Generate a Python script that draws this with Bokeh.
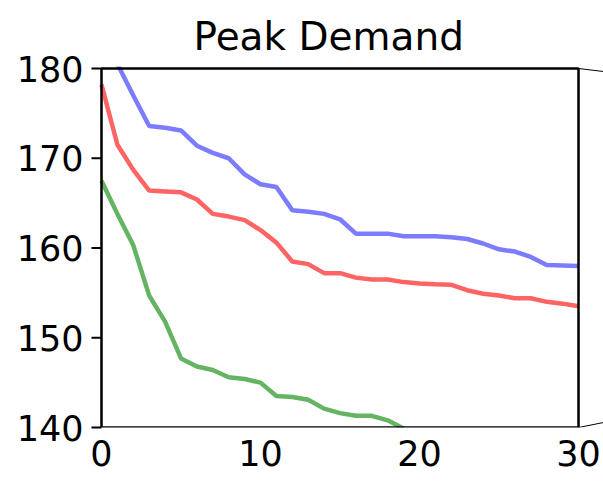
from bokeh.plotting import figure
from bokeh.models import Range1d, FixedTicker
from bokeh.embed import file_html
from bokeh.resources import INLINE

x_blue = list(range(0, 31))
blue = [184.4, 180.5, 177.0, 173.6, 173.4, 173.1, 171.4, 170.6, 170.0, 168.2,
        167.1, 166.8, 164.2, 164.05, 163.8, 163.2, 161.6, 161.6, 161.6, 161.3,
        161.3, 161.3, 161.2, 161.0, 160.5, 159.85, 159.6, 159.0, 158.1, 158.05, 158.0]

x_red = list(range(0, 31))
red = [178.2, 171.5, 168.7, 166.4, 166.3, 166.2, 165.4, 163.8, 163.5, 163.1,
       162.0, 160.6, 158.5, 158.2, 157.2, 157.2, 156.7, 156.5, 156.5, 156.2,
       156.05, 155.95, 155.9, 155.3, 154.9, 154.7, 154.4, 154.4, 154.0, 153.8, 153.5]

x_green = list(range(0, 20))
green = [167.5, 163.8, 160.3, 154.7, 151.8, 147.7, 146.8, 146.4, 145.6, 145.4,
         145.0, 143.5, 143.4, 143.1, 142.1, 141.6, 141.3, 141.3, 140.8, 139.9]

x_ticks = [0, 10, 20, 30]
y_ticks = [140, 150, 160, 170, 180]

# axes box (data limits) and its pixel size
X0, X1, Y0, Y1 = 0, 30, 140, 180
BW, BH = 477, 359
px_x = (X1 - X0) / BW
px_y = (Y1 - Y0) / BH
TICK = 10          # tick length, px
PAD_L, PAD_B, PAD_R, PAD_T = 12, 0, 25, 2   # room around the box for ticks / connectors

p = figure(frame_width=BW + PAD_L + PAD_R, frame_height=BH + PAD_B + PAD_T,
           output_backend="svg", toolbar_location=None,
           x_range=Range1d(X0 - PAD_L * px_x, X1 + PAD_R * px_x),
           y_range=Range1d(Y0 - PAD_B * px_y, Y1 + PAD_T * px_y),
           title="Peak Demand",
           min_border_left=101 - PAD_L, min_border_top=68 - PAD_T,
           min_border_right=0, min_border_bottom=30)

p.title.align = "left"
p.title.offset = 104
p.title.text_font = "DejaVu Sans"
p.title.text_font_size = "39px"
p.title.text_font_style = "normal"
p.title.text_color = "black"
p.title.standoff = 16

p.grid.visible = False
p.background_fill_color = "white"
p.border_fill_color = "white"
p.outline_line_color = None

p.axis.axis_line_color = None
p.axis.major_tick_line_color = None
p.axis.major_tick_out = 0
p.axis.major_tick_in = 0
p.axis.minor_tick_line_color = None
p.axis.major_label_text_font = "DejaVu Sans"
p.axis.major_label_text_font_size = "35px"
p.axis.major_label_text_color = "black"

p.xaxis.ticker = FixedTicker(ticks=x_ticks)
p.yaxis.ticker = FixedTicker(ticks=y_ticks)
p.xaxis.major_label_standoff = 12
p.yaxis.major_label_standoff = 6

# data lines
p.line(x_blue, blue, line_color="#7c7cff", line_width=4.5)
p.line(x_red, red, line_color="#ff6464", line_width=4.5)
p.line(x_green, green, line_color="#64b464", line_width=4.5)

# axes box
p.quad(left=[X0], right=[X1], bottom=[Y0], top=[Y1],
       fill_color=None, line_color="black", line_width=2.5)

# y tick marks (outside the box, left)
p.multi_line(xs=[[X0 - TICK * px_x, X0] for t in y_ticks],
             ys=[[t, t] for t in y_ticks],
             line_color="black", line_width=2, level="overlay")

# zoom-inset connector lines leaving the right edge
p.segment(x0=[X1, X1], y0=[Y1, Y0], x1=[X1 + PAD_R * px_x, X1 + PAD_R * px_x],
          y1=[Y1 - 3 * px_y, Y0 + 5 * px_y], line_color="black", line_width=1)

open("out.html", "w").write(file_html(p, INLINE))
